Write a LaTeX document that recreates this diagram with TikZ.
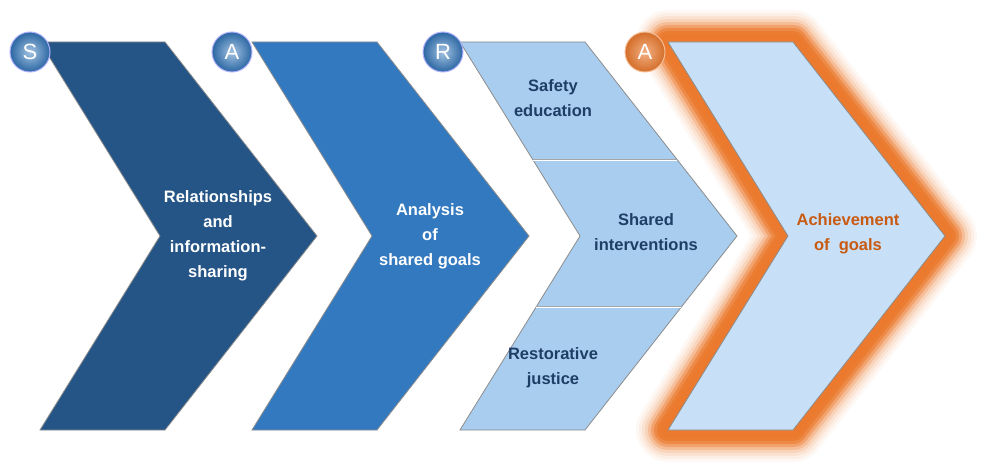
\documentclass[tikz,border=0pt]{standalone}
\usepackage{fontspec}
\setmainfont{Liberation Sans}
\begin{document}
\begin{tikzpicture}[x=1pt,y=-1pt,
  lbl/.style={font=\bfseries\fontsize{16.5}{25}\selectfont,align=center},
  badge/.style={circle,minimum size=40pt,inner sep=0pt,draw=white!70!blue,line width=1pt,font=\fontsize{22}{22}\selectfont,text=white},
  chev/.style={draw=black!45,line width=0.8pt}]
\definecolor{c1}{HTML}{245586}
\definecolor{c2}{HTML}{3379BF}
\definecolor{c3}{HTML}{A9CDEE}
\definecolor{c4}{HTML}{C8E0F7}
\definecolor{org}{HTML}{EB7A2E}
\definecolor{txtd}{HTML}{1F3E66}
\definecolor{txto}{HTML}{C85A12}
\useasboundingbox (0,0) rectangle (986,476);
\def\chevron#1{(#1,42) -- ++(125,0) -- ++(152,194) -- ++(-152,194) -- ++(-125,0) -- ++(120,-194) -- cycle}
% glow
\foreach \w/\o in {64/0.05,58/0.07,52/0.1,46/0.15,40/0.25,34/0.4,28/0.6,22/0.85,16/1}{
  \draw[org,line width=\w pt,opacity=\o,line join=round] \chevron{668};}
\fill[c1,chev] \chevron{40};
\fill[c2,chev] \chevron{252};
\fill[c3,chev] \chevron{460};
\fill[c4,chev] \chevron{668};
\coordinate (s1a) at (533,160); \coordinate (s1b) at (677,160);
\coordinate (s2a) at (536,307); \coordinate (s2b) at (681,307);
\draw[white,line width=1.5pt] (s1a) -- (s1b);
\draw[black!35,line width=0.6pt] ([yshift=1pt]s1a) -- ([yshift=1pt]s1b);
\draw[white,line width=1.5pt] (s2a) -- (s2b);
\draw[black!35,line width=0.6pt] ([yshift=1pt]s2a) -- ([yshift=1pt]s2b);
\node[lbl,text=white] (t1) at (218,236) {Relationships\\and\\information-\\sharing};
\node[lbl,text=white] (t2) at (430,236) {Analysis\\of\\shared goals};
\node[lbl,text=txtd] (t3a) at (553,98) {Safety\\education};
\node[lbl,text=txtd] (t3b) at (646,232) {Shared\\interventions};
\node[lbl,text=txtd] (t3c) at (553,368) {Restorative\\justice};
\node[lbl,text=txto] (t4) at (848,234) {Achievement\\of\ \ goals};
\foreach \n/\x/\t in {b1/30/S,b2/232/A,b3/443/R}{
  \node[badge,shading=radial,inner color=c2!45!white,outer color=c2!85!black] (\n) at (\x,52) {\t};}
\node[badge,shading=radial,inner color=org!60!white,outer color=org!90!black,draw=org!50!white] (b4) at (645,52) {A};
\end{tikzpicture}
\end{document}
